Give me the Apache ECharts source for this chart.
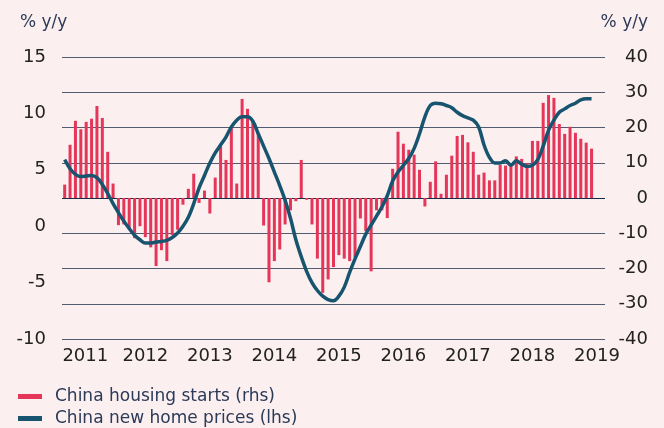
<!DOCTYPE html>
<html>
<head>
<meta charset="utf-8">
<script src="https://cdn.jsdelivr.net/npm/echarts@6/dist/echarts.min.js"></script>
<style>
  html, body { margin: 0; padding: 0; background: #fcefef; }
  #chart { width: 664px; height: 428px; }
</style>
</head>
<body>
<div id="chart"></div>
<script>
// Monthly observations, October 2010 onward
var startYear = 2010, startMonth = 10, monthCount = 101;

// China housing starts, % y/y (right axis)
var housingStarts = [
  3.8, 15.1, 21.9, 19.5, 21.6, 22.5, 26.1, 22.7, 13.1, 4.1,
  -7.7, -7.5, -8.8, -11.4, -8.0, -11.1, -14.0, -19.3, -14.8, -17.9,
  -10.5, -9.0, -1.9, 2.6, 6.9, -1.4, 2.1, -4.4, 5.8, 14.6,
  10.8, 20.0, 4.1, 28.1, 25.3, 21.7, 18.4, -7.8, -23.9, -17.9,
  -14.6, -7.5, -3.5, -0.9, 10.8, -0.5, -7.5, -17.2, -26.9, -23.1,
  -19.6, -16.2, -17.2, -17.9, -16.8, -5.8, -9.4, -20.8, -3.5, -3.5,
  -5.7, 8.3, 18.8, 15.4, 13.7, 12.3, 8.0, -2.4, 4.6, 10.4,
  1.2, 6.6, 12.0, 17.6, 17.9, 15.8, 13.1, 6.6, 7.2, 5.0,
  5.0, 9.4, 9.2, 9.4, 11.8, 11.1, 9.9, 16.2, 16.2, 27.0,
  29.2, 28.4, 21.0, 18.2, 20.2, 18.5, 16.8, 15.7, 14.0
];

// China new home prices, % y/y (left axis)
var homePrices = [
  5.9, 5.1, 4.6, 4.4, 4.45, 4.5, 4.3, 3.7, 2.9, 2.0,
  1.2, 0.45, -0.2, -0.8, -1.2, -1.5, -1.5, -1.4, -1.35, -1.25,
  -1.0, -0.6, 0.0, 0.8, 2.0, 3.4, 4.5, 5.6, 6.5, 7.2,
  7.9, 8.8, 9.4, 9.7, 9.7, 9.3, 8.2, 7.1, 6.0, 4.8,
  3.6, 2.3, 0.7, -1.2, -2.7, -4.0, -5.0, -5.7, -6.2, -6.5,
  -6.6, -6.2, -5.4, -4.1, -2.9, -1.8, -0.7, 0.1, 0.9, 1.7,
  2.7, 4.0, 4.8, 5.4, 6.0, 6.9, 8.2, 9.7, 10.7, 10.9,
  10.85, 10.7, 10.5, 10.1, 9.8, 9.6, 9.4, 8.8, 7.2, 6.1,
  5.6, 5.6, 5.8, 5.4, 5.8, 5.5, 5.3, 5.4, 5.9, 7.1,
  8.5, 9.4, 10.1, 10.4, 10.7, 10.9, 11.2, 11.3, 11.3
];

var seriesNames = ['China housing starts (rhs)', 'China new home prices (lhs)'];
var axisTitle = '% y/y';

// Month categories "YYYY-MM"
var months = [];
for (var k = 0; k < monthCount; k++) {
  var m = startMonth - 1 + k;
  var y = startYear + Math.floor(m / 12);
  var mm = (m % 12) + 1;
  months.push(y + '-' + (mm < 10 ? '0' + mm : mm));
}
var firstLabelledMonth = months[3];

var FONT = 'DejaVu Sans';
var gridColor = '#525c70';
var zeroColor = '#1c2b45';

var chart = echarts.init(document.getElementById('chart'), null, { renderer: 'canvas' });

chart.setOption({
  backgroundColor: '#fcefef',
  animation: false,
  textStyle: { fontFamily: FONT },
  grid: { left: 62, right: 59, top: 57, bottom: 89 },
  legend: {
    orient: 'vertical',
    left: 13,
    top: 382,
    height: 80,
    itemGap: 3,
    itemWidth: 24,
    itemHeight: 5,
    data: [
      { name: seriesNames[0], icon: 'rect', itemStyle: { color: '#e5365a' } },
      { name: seriesNames[1], icon: 'rect', itemStyle: { color: '#17546f' } }
    ],
    textStyle: { fontFamily: FONT, fontSize: 17, lineHeight: 19, color: '#2a3a58', padding: [0, 0, 0, 8] }
  },
  graphic: [
    { type: 'text', left: 20, top: 14, style: { text: axisTitle, font: '17px "DejaVu Sans"', fill: '#2e3b58' } },
    { type: 'text', right: 16, top: 14, style: { text: axisTitle, font: '17px "DejaVu Sans"', fill: '#2e3b58' } }
  ],
  xAxis: {
    type: 'category',
    data: months,
    boundaryGap: true,
    axisLine: { show: false },
    axisTick: { show: false },
    splitLine: { show: false },
    axisLabel: {
      margin: 8,
      fontFamily: FONT,
      fontSize: 18,
      color: '#222222',
      interval: function (idx, val) { return val.slice(5) === '01'; },
      formatter: function (val) {
        var yr = val.slice(0, 4);
        return val === firstLabelledMonth ? '{first|' + yr + '}' : yr;
      },
      rich: { first: { fontFamily: FONT, fontSize: 18, color: '#222222', padding: [0, 0, 0, 9] } }
    }
  },
  yAxis: [
    {
      type: 'value',
      min: -10, max: 15, interval: 5,
      axisLine: { show: false },
      axisTick: { show: false },
      splitLine: { show: false },
      axisLabel: { margin: 16, fontFamily: FONT, fontSize: 18, color: '#222222', padding: [0, 0, 7, 0] }
    },
    {
      type: 'value',
      min: -40, max: 40, interval: 10,
      position: 'right',
      axisLine: { show: false },
      axisTick: { show: false },
      axisLabel: { margin: 43, align: 'right', fontFamily: FONT, fontSize: 18, color: '#222222', padding: [0, 0, 11, 0] },
      splitLine: {
        show: true,
        lineStyle: {
          width: 1.2,
          color: [gridColor, gridColor, gridColor, gridColor, zeroColor, gridColor, gridColor, gridColor, gridColor]
        }
      }
    }
  ],
  series: [
    {
      name: seriesNames[0],
      type: 'bar',
      yAxisIndex: 1,
      barWidth: 3,
      itemStyle: { color: '#e5365a' },
      data: housingStarts,
      z: 2
    },
    {
      name: seriesNames[1],
      type: 'line',
      yAxisIndex: 0,
      smooth: 0.35,
      showSymbol: false,
      lineStyle: { color: '#17546f', width: 3.5 },
      itemStyle: { color: '#17546f' },
      data: homePrices,
      z: 3
    }
  ]
});
</script>
</body>
</html>
